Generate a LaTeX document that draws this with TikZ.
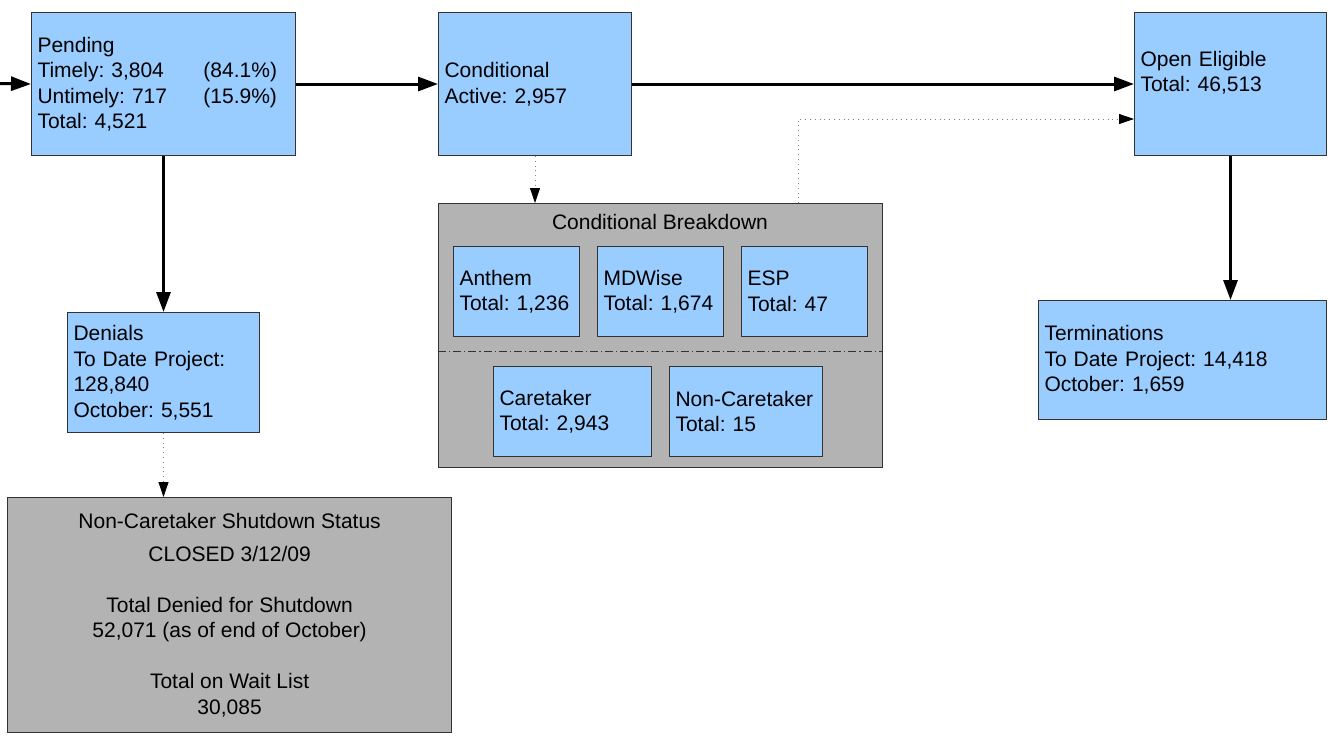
\documentclass[tikz,border=0pt]{standalone}
\usepackage{fontspec}
\setmainfont{Liberation Sans}
\usetikzlibrary{arrows.meta}
\definecolor{boxblue}{HTML}{99CCFF}
\definecolor{boxgray}{HTML}{B3B3B3}
\definecolor{edge}{HTML}{333333}
\frenchspacing
\begin{document}
\begin{tikzpicture}[x=0.5pt,y=-0.5pt,
  font=\fontsize{10.5pt}{12.75pt}\selectfont,
  bluebox/.style={draw=edge,line width=0.5pt,fill=boxblue,anchor=north west,inner xsep=3pt,inner ysep=0pt,align=left},
  graybox/.style={draw=edge,line width=0.6pt,fill=boxgray,anchor=north west,inner sep=0pt},
  mainarrow/.style={line width=1.5pt,-{Triangle[length=10pt,width=7pt]}},
  dotarrow/.style={draw=gray,line width=0.4pt,dotted,-{Triangle[length=7.5pt,width=5pt,fill=black,color=black]}},
  dotline/.style={draw=gray,line width=0.4pt,dotted}
]
\useasboundingbox (0,0) rectangle (1332,735);
% top row
\node[bluebox,minimum width=132pt,minimum height=71.5pt,text width=126pt] (pending) at (31,12)
  {Pending\\\makebox[83pt][l]{Timely: 3,804}(84.1\%)\\\makebox[83pt][l]{Untimely: 717}(15.9\%)\\Total: 4,521};
\node[bluebox,minimum width=96.5pt,minimum height=71.5pt,text width=90.5pt] (cond) at (438,12)
  {Conditional\\Active: 2,957};
\node[bluebox,minimum width=96pt,minimum height=71.5pt,text width=90pt] (open) at (1134,12)
  {Open Eligible\\Total: 46,513\\\mbox{}};
% breakdown group
\node[graybox,minimum width=222pt,minimum height=132pt] (bd) at (438,203) {};
\node (bdtitle) at (660,222) {Conditional Breakdown};
\node[bluebox,minimum width=63pt,minimum height=45pt,text width=57pt] (anthem) at (453,246) {Anthem\\Total: 1,236};
\node[bluebox,minimum width=63pt,minimum height=45pt,text width=57pt] (mdwise) at (597,246) {MDWise\\Total: 1,674};
\node[bluebox,minimum width=63pt,minimum height=45pt,text width=57pt] (esp) at (741,246) {ESP\\Total: 47};
\coordinate (divL) at (438,351);
\coordinate (divR) at (882,351);
\draw[edge,line width=0.5pt,dash pattern=on 4pt off 1.5pt on 0.6pt off 1.5pt] (divL) -- (divR);
\node[bluebox,minimum width=79pt,minimum height=45pt,text width=73pt] (care) at (493,366) {Caretaker\\Total: 2,943};
\node[bluebox,minimum width=76.5pt,minimum height=45pt,text width=70.5pt] (noncare) at (669,366) {Non-Caretaker\\Total: 15};
% left column
\node[bluebox,minimum width=96pt,minimum height=60pt,text width=90pt] (denials) at (67,312)
  {Denials\\To Date Project:\\128,840\\October: 5,551};
\node[graybox,minimum width=222pt,minimum height=117.5pt,align=center] (shut) at (7,497)
  {Non-Caretaker Shutdown Status\\[3.75pt]CLOSED 3/12/09\\[12.75pt]Total Denied for Shutdown\\52,071 (as of end of October)\\[12.75pt]Total on Wait List\\30,085};
% right column
\node[bluebox,minimum width=144pt,minimum height=59.5pt,text width=138pt] (term) at (1038,300)
  {Terminations\\To Date Project: 14,418\\October: 1,659};
% connectors
\coordinate (start) at (0,83.5);
\draw[mainarrow] (start) -- (pending.west);
\draw[mainarrow] (pending.east) -- (cond.west);
\draw[mainarrow] (cond.east) -- (open.west);
\draw[mainarrow] (pending.south) -- (denials.north);
\draw[mainarrow] (open.south) -- (open.south |- term.north);
\draw[dotarrow] (denials.south) -- (denials.south |- shut.north);
\draw[dotarrow] (cond.south) -- (cond.south |- bd.north);
\coordinate (bend) at (798,119);
\draw[dotarrow] (bd.north -| bend) -- (bend) -- (bend -| open.west);
\end{tikzpicture}
\end{document}
